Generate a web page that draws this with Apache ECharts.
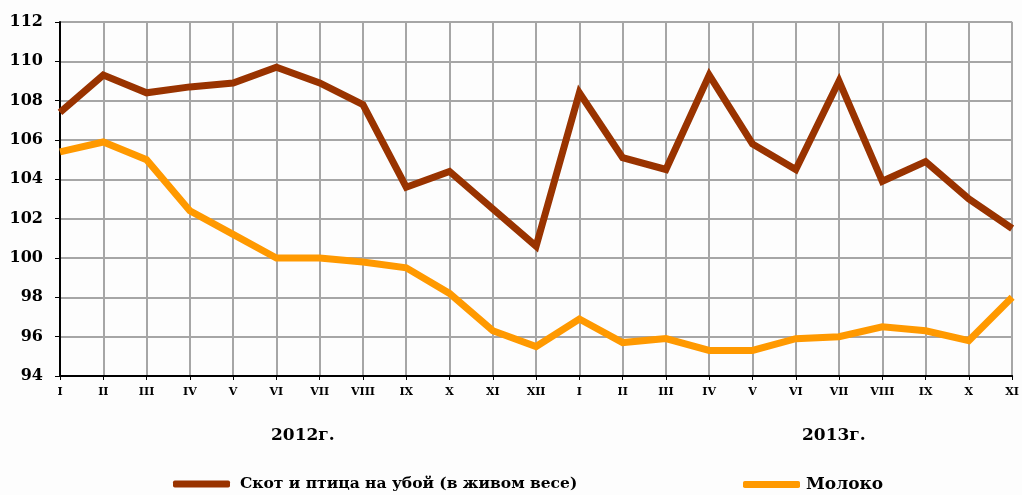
<!DOCTYPE html>
<html>
<head>
<meta charset="utf-8">
<script src="https://cdn.jsdelivr.net/npm/echarts@6/dist/echarts.min.js"></script>
<style>
html,body{margin:0;padding:0;background:#fdfdfd;}
#chart{width:1022px;height:495px;}
</style>
</head>
<body>
<div id="chart"></div>
<script>
const categories = ['I','II','III','IV','V','VI','VII','VIII','IX','X','XI','XII',
                    'I','II','III','IV','V','VI','VII','VIII','IX','X','XI'];
const yearLabels = ['2012г.', '2013г.'];
const seriesNames = ['Скот и птица на убой (в живом весе)', 'Молоко'];
const livestock = [107.4,109.3,108.4,108.7,108.9,109.7,108.9,107.8,103.6,104.4,102.5,100.6,
                   108.4,105.1,104.5,109.3,105.8,104.5,109.0,103.9,104.9,103.0,101.5];
const milk = [105.4,105.9,105.0,102.4,101.2,100.0,100.0,99.8,99.5,98.2,96.3,95.5,
              96.9,95.7,95.9,95.3,95.3,95.9,96.0,96.5,96.3,95.8,98.0];
const yMin = 94, yMax = 112, yStep = 2;

const FONT = 'DejaVu Serif';
const chart = echarts.init(document.getElementById('chart'));
chart.setOption({
  backgroundColor: '#fdfdfd',
  animation: false,
  grid: {left: 60, right: 6, top: 22, bottom: 119, containLabel: false},
  legend: [
    {left: 173, top: 476, padding: 0, itemWidth: 57, itemHeight: 7, icon: 'roundRect', itemGap: 10,
     data: [seriesNames[0]],
     textStyle: {fontFamily: FONT, fontWeight: 'bold', fontSize: 15.5, color: '#000', padding: [0, 0, 0, 5]}},
    {left: 743, top: 476, padding: 0, itemWidth: 57, itemHeight: 7, icon: 'roundRect', itemGap: 10,
     data: [seriesNames[1]],
     textStyle: {fontFamily: FONT, fontWeight: 'bold', fontSize: 17, color: '#000', padding: [0, 0, 0, 1]}}
  ],
  xAxis: {
    type: 'category', data: categories, boundaryGap: false,
    axisLine: {lineStyle: {color: '#000', width: 2}},
    axisTick: {show: true, length: 4, lineStyle: {color: '#000', width: 1}},
    axisLabel: {interval: 0, margin: 11, fontFamily: FONT, fontWeight: 'bold', fontSize: 11, color: '#000'},
    splitLine: {show: true, lineStyle: {color: '#a6a6a6', width: 2}}
  },
  yAxis: {
    type: 'value', min: yMin, max: yMax, interval: yStep,
    axisLine: {show: true, lineStyle: {color: '#000', width: 2}},
    axisTick: {show: true, length: 5, lineStyle: {color: '#000', width: 1}},
    axisLabel: {margin: 17, fontFamily: FONT, fontWeight: 'bold', fontSize: 16, color: '#000'},
    splitLine: {show: true, lineStyle: {color: '#a6a6a6', width: 2}}
  },
  graphic: [
    {type: 'text', left: 271, top: 427, style: {text: yearLabels[0], font: 'bold 17px "DejaVu Serif"', fill: '#000'}},
    {type: 'text', left: 802, top: 427, style: {text: yearLabels[1], font: 'bold 17px "DejaVu Serif"', fill: '#000'}}
  ],
  series: [
    {name: seriesNames[1], type: 'line', data: milk, showSymbol: false, symbol: 'none',
     itemStyle: {color: '#ff9900'},
     lineStyle: {color: '#ff9900', width: 7, join: 'miter'}},
    {name: seriesNames[0], type: 'line', data: livestock, showSymbol: false, symbol: 'none',
     itemStyle: {color: '#993300'},
     lineStyle: {color: '#993300', width: 7, join: 'miter'}}
  ]
});
</script>
</body>
</html>
